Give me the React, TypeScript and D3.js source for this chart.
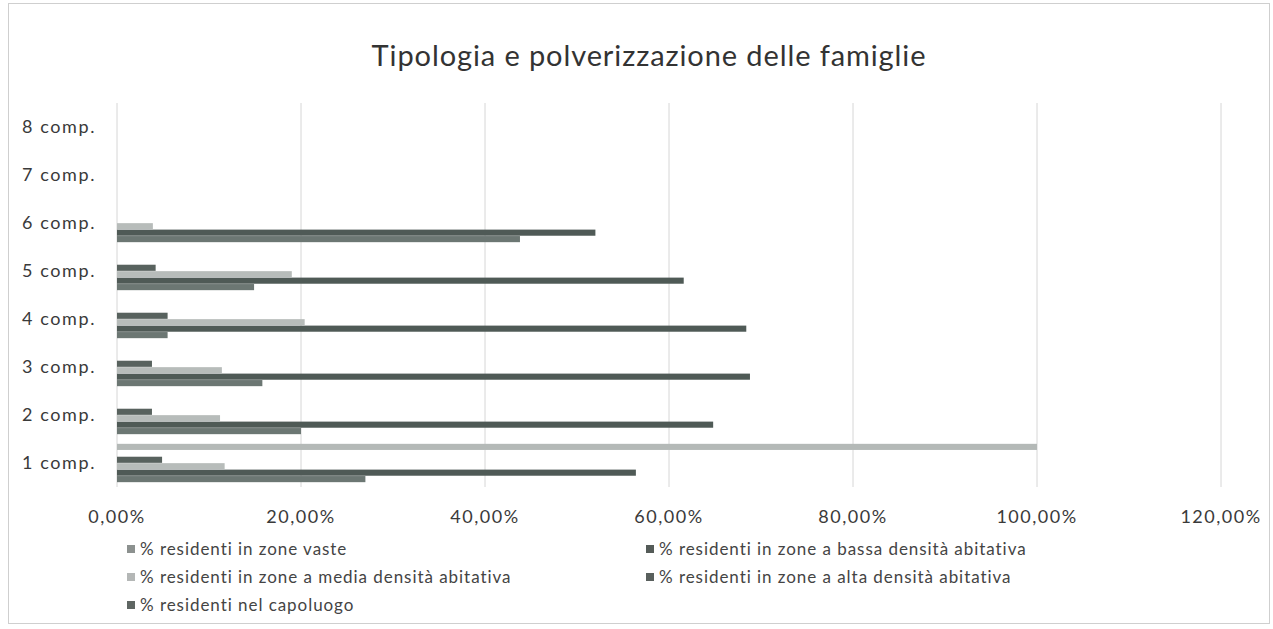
import React from "react";
import * as d3 from "d3";

const title = "Tipologia e polverizzazione delle famiglie";
const categories = ["8 comp.", "7 comp.", "6 comp.", "5 comp.", "4 comp.", "3 comp.", "2 comp.", "1 comp."];
// series values in category order 1 comp. .. 8 comp.
const catOrder = ["1 comp.", "2 comp.", "3 comp.", "4 comp.", "5 comp.", "6 comp.", "7 comp.", "8 comp."];
const zoneVaste = [0.27, 0.2, 0.158, 0.055, 0.149, 0.438, 0, 0];
const bassaDensita = [0.564, 0.648, 0.688, 0.684, 0.616, 0.52, 0, 0];
const mediaDensita = [0.117, 0.112, 0.114, 0.204, 0.19, 0.039, 0, 0];
const altaDensita = [0.049, 0.038, 0.038, 0.055, 0.042, 0, 0, 0];
const capoluogo = [0, 0, 0, 0, 0, 0, 0, 0];
const totale = [1.0, 0, 0, 0, 0, 0, 0, 0];
const xTicks = [0, 0.2, 0.4, 0.6, 0.8, 1.0, 1.2];

const seriesNames = [
  "% residenti in zone vaste",
  "% residenti in zone a bassa densità abitativa",
  "% residenti in zone a media densità abitativa",
  "% residenti in zone a alta densità abitativa",
  "% residenti nel capoluogo",
  "",
];
const seriesValues = [zoneVaste, bassaDensita, mediaDensita, altaDensita, capoluogo, totale];
const barColors = ["#6c7773", "#4f5a56", "#b7bcba", "#58625e", "#646a67", "#b4b9b7"];
const legendColors = ["#8c918f", "#545b58", "#b4b7b6", "#59605d", "#5f6663"];

const W = 1273;
const H = 629;
const plot = { left: 117, right: 1221, top: 103, bottom: 487 };

export default function App() {
  const x = d3.scaleLinear().domain([0, 1.2]).range([plot.left, plot.right]);
  const y0 = d3.scaleBand<string>().domain(categories).range([plot.top, plot.bottom]).padding(0);
  const slotKeys = ["s6", "s5", "s4", "s3", "s2", "s1"]; // top to bottom in a band
  const y1 = d3
    .scaleBand<string>()
    .domain(slotKeys)
    .range([0, y0.bandwidth()])
    .paddingInner(0.05)
    .paddingOuter(0.75);
  const font = "Lato, 'Open Sans', sans-serif";

  const bars: JSX.Element[] = [];
  seriesValues.forEach((vals, si) => {
    vals.forEach((v, ci) => {
      if (v <= 0) return;
      const cat = catOrder[ci];
      const yy = (y0(cat) as number) + (y1("s" + (si + 1)) as number);
      bars.push(
        <rect
          key={`b-${si}-${ci}`}
          x={x(0)}
          y={yy}
          width={x(v) - x(0)}
          height={y1.bandwidth()}
          fill={barColors[si]}
        />
      );
    });
  });

  const legendPos = [
    { x: 131, y: 549 },
    { x: 650, y: 549 },
    { x: 131, y: 577 },
    { x: 650, y: 577 },
    { x: 131, y: 605 },
  ];

  return (
    <svg
      width={W}
      height={H}
      style={{ position: "absolute", left: 0, top: 0, background: "#fff" }}
      fontFamily={font}
    >
      <rect x={8.5} y={3.5} width={1261} height={620} fill="#fff" stroke="#cfcfcf" strokeWidth={1} />
      <text x={649} y={66} textAnchor="middle" fontSize={29} letterSpacing={0.9} fill="#333">
        {title}
      </text>
      {xTicks.map((t) => (
        <line
          key={"g" + t}
          x1={x(t)}
          x2={x(t)}
          y1={plot.top}
          y2={plot.bottom}
          stroke="#d6d6d6"
          strokeWidth={1}
        />
      ))}
      {bars}
      {categories.map((c) => (
        <text
          key={"c" + c}
          x={96}
          y={(y0(c) as number) + y0.bandwidth() / 2}
          dy="0.35em"
          textAnchor="end"
          fontSize={18}
          letterSpacing={1.6}
          fill="#3a3a3a"
        >
          {c}
        </text>
      ))}
      {xTicks.map((t) => (
        <text
          key={"t" + t}
          x={x(t)}
          y={517}
          dy="0.35em"
          textAnchor="middle"
          fontSize={18}
          letterSpacing={1.5}
          fill="#3a3a3a"
        >
          {d3.format(".2f")(t * 100).replace(".", ",") + "%"}
        </text>
      ))}
      {seriesNames.slice(0, 5).map((n, i) => (
        <g key={"l" + i}>
          <rect x={legendPos[i].x - 4} y={legendPos[i].y - 4} width={8} height={8} fill={legendColors[i]} />
          <text
            x={legendPos[i].x + 9}
            y={legendPos[i].y}
            dy="0.35em"
            fontSize={17}
            letterSpacing={0.95}
            fill="#444"
          >
            {n}
          </text>
        </g>
      ))}
    </svg>
  );
}
